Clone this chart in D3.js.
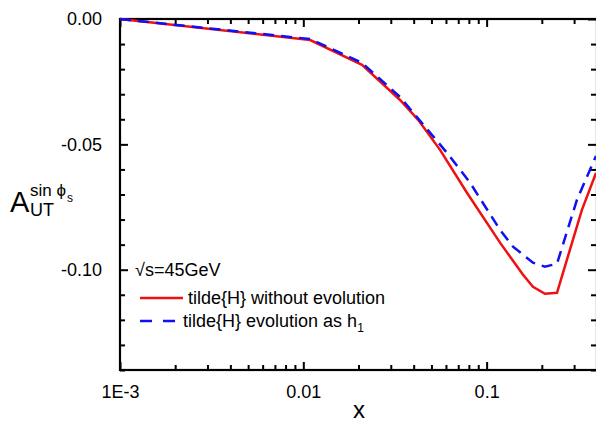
<!DOCTYPE html>
<html>
<head>
<meta charset="utf-8">
<script src="https://cdn.jsdelivr.net/npm/d3@7"></script>
<style>
body { margin: 0; background: #fff; }
svg { font-family: "Liberation Sans", Arial, sans-serif; }
.axis path { display: none; }
.axis line { stroke: #000; stroke-width: 2; }
.axis text { font-size: 18px; fill: #000; font-family: "Liberation Sans", Arial, sans-serif; }
</style>
</head>
<body>
<script>
// values
var xNoEvo = [0.001, 0.0109, 0.0209, 0.0337, 0.0423, 0.0557, 0.0781, 0.1183, 0.158, 0.179, 0.208, 0.242, 0.331, 0.395];
var yNoEvo = [0, -0.0084, -0.0183, -0.0323, -0.0402, -0.0522, -0.0693, -0.0892, -0.1020, -0.1068, -0.1096, -0.1092, -0.0761, -0.0614];
var xEvoH1 = [0.001, 0.0109, 0.0209, 0.0337, 0.0608, 0.0812, 0.1183, 0.1393, 0.179, 0.208, 0.242, 0.311, 0.395];
var yEvoH1 = [0, -0.0080, -0.0175, -0.0311, -0.0534, -0.0653, -0.0841, -0.0908, -0.0972, -0.0988, -0.0976, -0.0721, -0.0546];

var xMajor = [0.001, 0.01, 0.1];
var xLabels = ["1E-3", "0.01", "0.1"];
var yMajor = [0, -0.05, -0.10];
var yLabels = ["0.00", "-0.05", "-0.10"];

var w = 596, h = 425;
var padL = 120, padR = 597, padT = 19, padB = 370;

var svg = d3.select("body").append("svg")
	.attr("width", w)
	.attr("height", h);

var xScale = d3.scaleLog().domain([0.001, 0.4]).range([padL, padR]);
var yScale = d3.scaleLinear().domain([-0.14, 0]).range([padB, padT]);

// minor ticks
var xMinor = [];
xMajor.forEach(function(d){
	for(var k = 2; k < 10; k++){
		if(d * k <= 0.4) xMinor.push(d * k);
	}
});
var yMinor = d3.range(0, 15).map(function(i){ return -i / 100; })
	.filter(function(v){ return Math.abs(v * 20 - Math.round(v * 20)) > 1e-6; });

function fmt(list, labels){
	return function(d){
		var i = list.indexOf(d);
		return i < 0 ? "" : labels[i];
	};
}

// bottom
svg.append("g").attr("class", "axis")
	.attr("transform", "translate(0," + padB + ")")
	.call(d3.axisBottom(xScale).tickValues(xMinor).tickSize(-5).tickFormat(""));
svg.append("g").attr("class", "axis")
	.attr("transform", "translate(0," + padB + ")")
	.call(d3.axisBottom(xScale).tickValues(xMajor).tickSize(-8).tickPadding(15).tickFormat(fmt(xMajor, xLabels)));
// top
svg.append("g").attr("class", "axis")
	.attr("transform", "translate(0," + padT + ")")
	.call(d3.axisTop(xScale).tickValues(xMinor).tickSize(-5).tickFormat(""));
svg.append("g").attr("class", "axis")
	.attr("transform", "translate(0," + padT + ")")
	.call(d3.axisTop(xScale).tickValues(xMajor).tickSize(-8).tickFormat(""));
// left
svg.append("g").attr("class", "axis")
	.attr("transform", "translate(" + padL + ",0)")
	.call(d3.axisLeft(yScale).tickValues(yMinor).tickSize(-5).tickFormat(""));
svg.append("g").attr("class", "axis")
	.attr("transform", "translate(" + padL + ",0)")
	.call(d3.axisLeft(yScale).tickValues(yMajor).tickSize(-8).tickPadding(18).tickFormat(fmt(yMajor, yLabels)));
// right
svg.append("g").attr("class", "axis")
	.attr("transform", "translate(" + padR + ",0)")
	.call(d3.axisRight(yScale).tickValues(yMinor).tickSize(-6).tickFormat(""));
svg.append("g").attr("class", "axis")
	.attr("transform", "translate(" + padR + ",0)")
	.call(d3.axisRight(yScale).tickValues(yMajor).tickSize(-9).tickFormat(""));

svg.append("rect")
	.attr("x", padL).attr("y", padT)
	.attr("width", padR - padL).attr("height", padB - padT)
	.attr("fill", "none").attr("stroke", "#000").attr("stroke-width", 2.2);

var line = d3.line()
	.x(function(d){ return xScale(d[0]); })
	.y(function(d){ return yScale(d[1]); });

svg.append("path")
	.datum(d3.zip(xNoEvo, yNoEvo))
	.attr("d", line)
	.attr("fill", "none")
	.attr("stroke", "#f01010")
	.attr("stroke-width", 2.5);

svg.append("path")
	.datum(d3.zip(xEvoH1, yEvoH1))
	.attr("d", line)
	.attr("fill", "none")
	.attr("stroke", "#1010f0")
	.attr("stroke-width", 2.5)
	.attr("stroke-dasharray", "11,7");

// legend
svg.append("text").attr("x", 135).attr("y", 276)
	.attr("font-size", 18).text("\u221As=45GeV");
svg.append("line").attr("x1", 140).attr("x2", 183).attr("y1", 298).attr("y2", 298)
	.attr("stroke", "#f01010").attr("stroke-width", 2.5);
svg.append("text").attr("x", 188).attr("y", 304)
	.attr("font-size", 18).text("tilde{H} without evolution");
svg.append("line").attr("x1", 140).attr("x2", 176).attr("y1", 321).attr("y2", 321)
	.attr("stroke", "#1010f0").attr("stroke-width", 2.5).attr("stroke-dasharray", "12,11");
var t2 = svg.append("text").attr("x", 183).attr("y", 327).attr("font-size", 18);
t2.append("tspan").text("tilde{H} evolution as h");
t2.append("tspan").attr("font-size", 12).attr("dy", 5).text("1");

// axis titles
svg.append("text").attr("x", 359).attr("y", 418)
	.attr("text-anchor", "middle").attr("font-size", 24).text("x");

var yl = svg.append("g");
yl.append("text").attr("x", 10).attr("y", 212).attr("font-size", 29).text("A");
yl.append("text").attr("x", 30).attr("y", 196).attr("font-size", 17).text("sin \u03D5");
yl.append("text").attr("x", 67).attr("y", 202).attr("font-size", 12).text("s");
yl.append("text").attr("x", 30).attr("y", 216).attr("font-size", 18).text("UT");
</script>
</body>
</html>
